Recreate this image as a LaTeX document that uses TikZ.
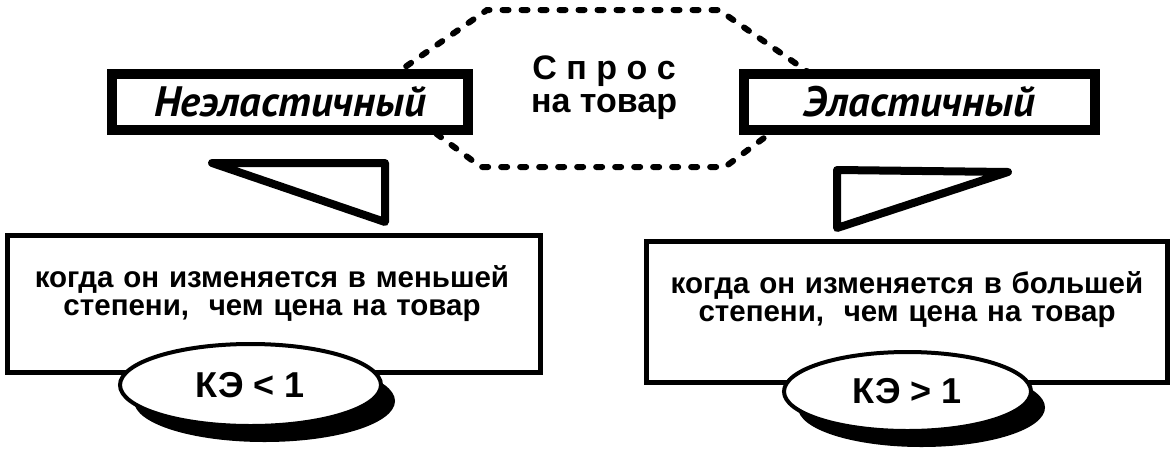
\documentclass[tikz,border=0pt]{standalone}
\usepackage{fontspec}
\setmainfont{Liberation Sans}
\newfontfamily\cursfont{PT Sans}
\usetikzlibrary{shapes.geometric,shadows}

\tikzset{
  headbox/.style={rectangle, draw=black, line width=10pt, fill=white, inner sep=0pt,
    font=\cursfont\bfseries\itshape\fontsize{42.5}{42}\selectfont},
  infobox/.style={rectangle, draw=black, line width=5pt, fill=white, inner sep=0pt},
  infotext/.style={text width=520pt, align=center, inner sep=0pt, anchor=base,
    font=\bfseries\fontsize{29.5}{28}\selectfont},
  pointer/.style={draw=black, line width=8pt, fill=white, line join=round},
  keyoval/.style={ellipse, draw=black, line width=4pt, fill=white, inner sep=0pt,
    font=\bfseries\fontsize{36}{36}\selectfont,
    drop shadow={shadow xshift=14pt, shadow yshift=-16pt, fill=black, opacity=1}},
  hexdash/.style={draw=black, line width=6pt, dash pattern=on 6pt off 13pt, line cap=round},
  centertext/.style={font=\bfseries\fontsize{34}{33}\selectfont, align=center, inner sep=0pt}
}

\begin{document}
\begin{tikzpicture}[x=1pt,y=-1pt]
\useasboundingbox[fill=white] (0,0) rectangle (1175,453);

% dashed hexagon around the central label
\draw[hexdash] (375,88) -- (487,10) -- (719,10) -- (831,88) -- (725,167) -- (481,167) -- cycle;
\node[centertext] (spros) at (604,88) {С п р о с\\на товар};

% heading boxes
\node[headbox, minimum width=356, minimum height=56] (inel) at (290,102) {Неэластичный};
\node[headbox, minimum width=351, minimum height=56] (el) at (919.5,102) {Эластичный};

% pointers
\draw[pointer] (212,163) -- (385,163) -- (385,222) -- cycle;
\draw[pointer] (837,170) -- (1008,172) -- (837,228) -- cycle;

% lower boxes
\node[infobox, minimum width=533, minimum height=137] (lessbox) at (273.5,303.5) {};
\node[infotext] (lesstext) at (272,287)
  {когда он изменяется в меньшей\\степени,\ \ чем цена на товар};
\node[keyoval, minimum width=261, minimum height=82] (lesskey) at (250.5,385) {КЭ < 1};

\node[infobox, minimum width=521, minimum height=141] (morebox) at (906.5,311.5) {};
\node[infotext] (moretext) at (907,293)
  {когда он изменяется в большей\\степени,\ \ чем цена на товар};
\node[keyoval, minimum width=247, minimum height=79] (morekey) at (907.5,391.5) {КЭ > 1};
\end{tikzpicture}
\end{document}
